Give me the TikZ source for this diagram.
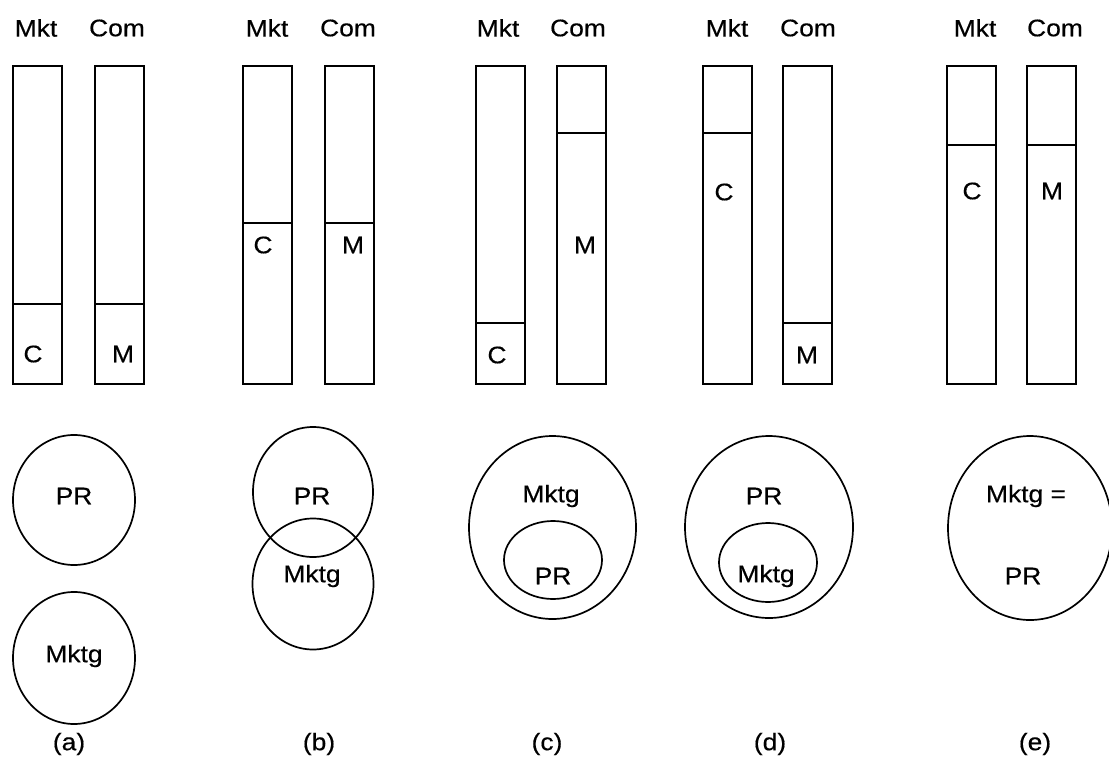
\documentclass[tikz,border=0pt]{standalone}
\usepackage{fontspec}
\setmainfont{Liberation Sans}[FakeStretch=1.1,FakeBold=0.4]
\usetikzlibrary{shapes.geometric}

% one Mkt/Com column: name, left x, divider y, letter, letter x, letter y
\newcommand{\colbar}[6]{%
  \draw[barline] (#2,66) rectangle ++(49,318);
  \draw[barline] (#2,#3) -- ++(49,0);
  \node[txt] (#1) at (#5,#6) {#4};
}

\begin{document}
\begin{tikzpicture}[x=1pt,y=-1pt,
  txt/.style={inner sep=0pt,font=\fontsize{24}{28}\selectfont},
  barline/.style={line width=1.7pt},
  venn/.style={draw,ellipse,line width=1.7pt,inner sep=0pt}]
\useasboundingbox (0,0) rectangle (1109,758);

% column headings
\foreach \n/\mx/\cx in {a/36/117, b/267/348, c/498/578, d/727/808, e/975/1055}{
  \node[txt] (mkt-\n) at (\mx,28) {Mkt};
  \node[txt] (com-\n) at (\cx,28) {Com};
}

% bars
\colbar{ca}{13}{304}{C}{33}{354}
\colbar{ma}{95}{304}{M}{123}{354}
\colbar{cb}{243}{223}{C}{263}{245}
\colbar{mb}{325}{223}{M}{353}{245}
\colbar{cc}{476}{323}{C}{497}{355}
\colbar{mc}{557}{133}{M}{585}{245}
\colbar{cd}{703}{133}{C}{724}{192}
\colbar{md}{783}{323}{M}{807}{355}
\colbar{ce}{947}{145}{C}{972}{191}
\colbar{me}{1027}{145}{M}{1052}{191}

% (a) separate
\node[venn,minimum width=122pt,minimum height=130pt] (pra) at (74,500) {};
\node[venn,minimum width=122pt,minimum height=132pt] (mka) at (74,658) {};
\node[txt] (pra-t) at (74,496) {PR};
\node[txt] (mka-t) at (74,656) {Mktg};

% (b) overlapping
\node[venn,minimum width=120pt,minimum height=130pt] (prb) at (313,492) {};
\node[venn,minimum width=121pt,minimum height=131pt] (mkb) at (313,584) {};
\node[txt] (prb-t) at (312,496) {PR};
\node[txt] (mkb-t) at (312,576) {Mktg};

% (c) PR inside marketing
\node[venn,minimum width=167pt,minimum height=183pt] (mkc) at (552.5,527.5) {};
\node[venn,minimum width=98pt,minimum height=78pt] (prc) at (553,560) {};
\node[txt] (mkc-t) at (551,496) {Mktg};
\node[txt] (prc-t) at (553,576) {PR};

% (d) marketing inside PR
\node[venn,minimum width=168pt,minimum height=182pt] (prd) at (769,527) {};
\node[venn,minimum width=98pt,minimum height=79pt] (mkd) at (768,562.5) {};
\node[txt] (prd-t) at (764,496) {PR};
\node[txt] (mkd-t) at (766,576) {Mktg};

% (e) equal
\node[venn,minimum width=164pt,minimum height=184pt] (eqe) at (1030,528) {};
\node[txt] (mke-t) at (1026,496) {Mktg =};
\node[txt] (pre-t) at (1023,576) {PR};

% panel letters
\foreach \n/\x in {a/69, b/319, c/547, d/770, e/1035}{
  \node[txt] (lab-\n) at (\x,744) {(\n)};
}
\end{tikzpicture}
\end{document}
